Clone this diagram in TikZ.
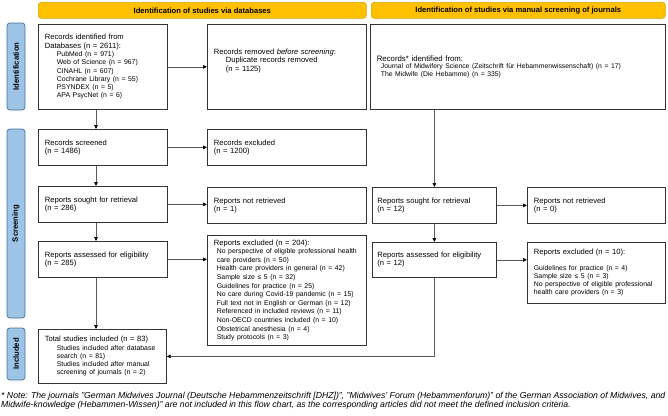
\documentclass[tikz,border=0pt]{standalone}
\usepackage{fontspec}
\setmainfont{Liberation Sans}
\usetikzlibrary{arrows.meta,positioning}
\definecolor{hdrfill}{HTML}{FFC000}
\definecolor{hdrline}{HTML}{D9A300}
\definecolor{barfill}{HTML}{9DC3E6}
\definecolor{barline}{HTML}{41719C}
\definecolor{boxline}{HTML}{333333}
\definecolor{linkline}{HTML}{5A5A5A}
\tikzset{
  box/.style={draw=boxline,line width=0.7pt,anchor=north west,inner xsep=6.5pt,inner ysep=1pt,align=left,font=\fontsize{7.6}{8.3}\selectfont},
  hdr/.style={draw=hdrline,fill=hdrfill,rounded corners=3pt,line width=0.6pt,anchor=north west,inner sep=0pt,font=\fontsize{7.6}{8}\selectfont\bfseries},
  phase/.style={draw=barline,fill=barfill,rounded corners=3pt,line width=0.7pt,rotate=90,inner sep=0pt,font=\fontsize{7.7}{8}\selectfont\bfseries},
  link/.style={draw=linkline,line width=0.7pt,-{Triangle[length=4pt,width=3.6pt,color=black]}},
  foot/.style={anchor=north west,inner sep=0pt,align=left,font=\fontsize{8.7}{9.4}\selectfont\itshape}
}
\newcommand{\sm}{\fontsize{6.9}{8.3}\selectfont}
\newcommand{\ind}{\hspace*{12pt}}

\begin{document}
\begin{tikzpicture}[x=1pt,y=-1pt]
\useasboundingbox (0,0) rectangle (668,415);

% headers and phases
\node[hdr,minimum width=328pt,minimum height=16pt] (hdrdb) at (38,2) {Identification of studies via databases};
\node[hdr,minimum width=294pt,minimum height=16pt] (hdrjr) at (371,2) {Identification of studies via manual screening of journals};
\node[phase,minimum width=87pt,minimum height=18pt] (phid) at (16,66.5) {Identification};
\node[phase,minimum width=189pt,minimum height=18pt] (phscr) at (16,223.5) {Screening};
\node[phase,minimum width=52pt,minimum height=18pt] (phinc) at (16,354) {Included};

% databases
\node[box,text width=116pt,minimum height=85pt] (ids) at (38,24) {Records identified from\\
  Databases (n = 2611):\\
  {\sm\ind PubMed (n = 971)}\\
  {\sm\ind Web of Science (n = 967)}\\
  {\sm\ind CINAHL (n = 607)}\\
  {\sm\ind Cochrane Library (n = 55)}\\
  {\sm\ind PSYNDEX (n = 5)}\\
  {\sm\ind APA PsycNet (n = 6)}};
\node[box,text width=146pt,minimum height=85pt] (removed) at (207,24) {Records removed \textit{before screening}:\\
  \ind Duplicate records removed\\
  \ind (n = 1125)\\[5pt]~};
\node[box,text width=116pt,minimum height=36pt] (screened) at (38,129) {Records screened\\(n = 1486)};
\node[box,text width=146pt,minimum height=36pt] (excluded) at (207,129) {Records excluded\\(n = 1200)};
\node[box,text width=116pt,minimum height=36pt] (sought) at (38,186) {Reports sought for retrieval\\(n = 286)};
\node[box,text width=146pt,minimum height=36pt] (notretr) at (207,187) {Reports not retrieved\\(n = 1)};
\node[box,text width=116pt,minimum height=36pt] (assessed) at (38,241) {Reports assessed for eligibility\\(n = 285)};
\node[box,text width=146pt,minimum height=110pt,font=\fontsize{7.6}{8.6}\selectfont] (reportsexcl) at (207,235) {Reports excluded (n = 204):\\
  {\sm\hspace*{3pt}No perspective of eligible professional health}\\
  {\sm\hspace*{3pt}care providers (n = 50)}\\
  {\sm\hspace*{3pt}Health care providers in general (n = 42)}\\
  {\sm\hspace*{3pt}Sample size ≤ 5 (n = 32)}\\
  {\sm\hspace*{3pt}Guidelines for practice (n = 25)}\\
  {\sm\hspace*{3pt}No care during Covid-19 pandemic (n = 15)}\\
  {\sm\hspace*{3pt}Full text not in English or German (n = 12)}\\
  {\sm\hspace*{3pt}Referenced in included reviews (n = 11)}\\
  {\sm\hspace*{3pt}Non-OECD countries included (n = 10)}\\
  {\sm\hspace*{3pt}Obstetrical anesthesia (n = 4)}\\
  {\sm\hspace*{3pt}Study protocols (n = 3)}};
\node[box,text width=115pt,minimum height=54pt] (total) at (38,329) {Total studies included (n = 83)\\
  {\sm\ind Studies included after database}\\
  {\sm\ind search (n = 81)}\\
  {\sm\ind Studies included after manual}\\
  {\sm\ind screening of journals (n = 2)}};

% journals
\node[box,text width=282pt,minimum height=85pt,font=\fontsize{7.8}{7.8}\selectfont] (journals) at (370,24) {Records* identified from:\\
  {\fontsize{6.8}{7.8}\selectfont\hspace*{4pt}Journal of Midwifery Science (Zeitschrift für Hebammenwissenschaft) (n = 17)}\\
  {\fontsize{6.8}{7.8}\selectfont\hspace*{4pt}The Midwife (Die Hebamme) (n = 335)}};
\node[box,text width=114pt,minimum height=36pt,inner xsep=5pt] (sought2) at (372,187) {Reports sought for retrieval\\(n = 12)};
\node[box,text width=125pt,minimum height=36pt] (notretr2) at (527,187) {Reports not retrieved\\(n = 0)};
\node[box,text width=114pt,minimum height=35pt,inner xsep=5pt] (assessed2) at (372,242) {Reports assessed for eligibility\\(n = 12)};
\node[box,text width=125pt,minimum height=61pt,font=\fontsize{7.6}{8}\selectfont] (excl2) at (527,242) {Reports excluded (n = 10):\\[8pt]
  {\sm Guidelines for practice (n = 4)}\\
  {\sm Sample size ≤ 5 (n = 3)}\\
  {\sm No perspective of eligible professional}\\
  {\sm health care providers (n = 3)}};

% connectors
\coordinate (spine) at (96,0);
\draw[link] (ids.east) -- (removed.west);
\draw[link] (ids.south -| spine) -- (screened.north -| spine);
\draw[link] (screened.east) -- (excluded.west);
\draw[link] (screened.south -| spine) -- (sought.north -| spine);
\draw[link] (sought.east) -- (sought.east -| notretr.west);
\draw[link] (sought.south -| spine) -- (assessed.north -| spine);
\draw[link] (assessed.east) -- (assessed.east -| reportsexcl.west);
\draw[link] (assessed.south -| spine) -- (total.north -| spine);
\draw[link] (journals.south -| sought2) -- (sought2.north);
\draw[link] (sought2.east) -- (notretr2.west);
\draw[link] (sought2.south) -- (assessed2.north);
\draw[link] (assessed2.east) -- (assessed2.east -| excl2.west);
\draw[link] (assessed2.south) |- (total.east);

\node[foot] (note) at (1,391.5) {* Note: The journals "German Midwives Journal (Deutsche Hebammenzeitschrift [DHZ])", "Midwives' Forum (Hebammenforum)" of the German Association of Midwives, and\\
  Midwife-knowledge (Hebammen-Wissen)" are not included in this flow chart, as the corresponding articles did not meet the defined inclusion criteria.};
\end{tikzpicture}
\end{document}
